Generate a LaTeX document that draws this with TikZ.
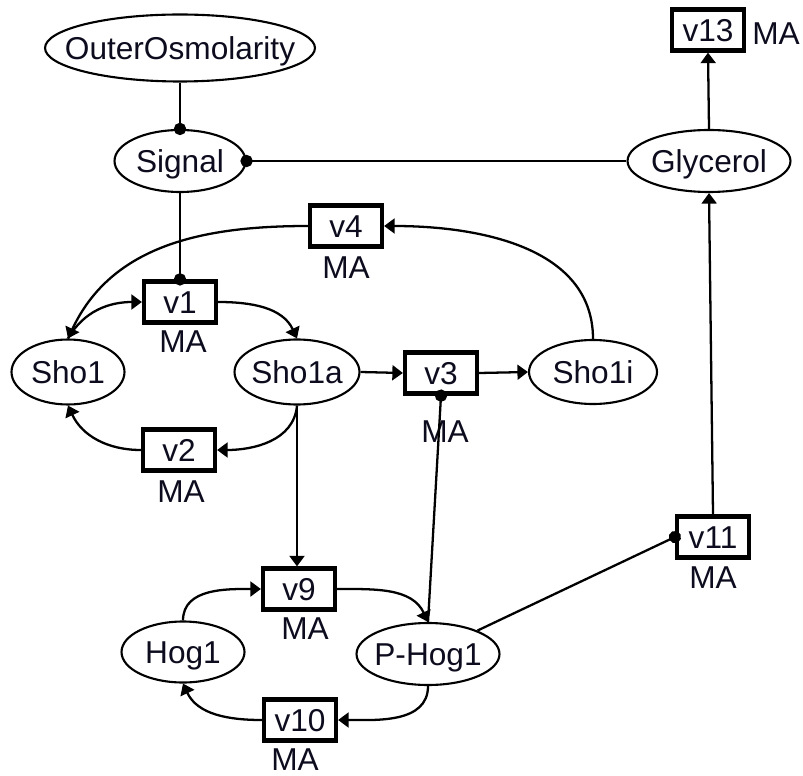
\documentclass[tikz,border=0pt]{standalone}
\usepackage{fontspec}
\setmainfont{Liberation Sans}
\usetikzlibrary{shapes.geometric,arrows.meta}
\definecolor{ink}{RGB}{12,12,30}
% zero-width text box so the ellipse size is set only by the minimum sizes
\newcommand{\zw}[1]{\makebox[0pt]{#1}}
\begin{document}
\begin{tikzpicture}[x=0.02cm,y=0.02cm,
  font=\fontsize{18}{20}\selectfont,
  species/.style={ellipse,draw,line width=1.2pt,inner sep=0pt,text=ink,
    text height=13pt,text depth=0pt},
  reaction/.style={rectangle,draw,line width=2.4pt,inner sep=0pt,
    minimum width=1.44cm,minimum height=0.82cm,text=ink,
    text height=13pt,text depth=0pt},
  ma/.style={text=ink,inner sep=0pt},
  flow/.style={line width=1.3pt,-{Triangle[length=6pt,width=8.5pt]}},
  modif/.style={line width=1.3pt,-{Circle[length=7pt]},shorten >=-3.5pt}]
\useasboundingbox (0,0) rectangle (803,-776);

% species
\node[species,minimum width=5.4cm,minimum height=1.34cm] (outer) at (180,-48) {\zw{OuterOsmolarity}};
\node[species,minimum width=2.62cm,minimum height=1.24cm] (signal) at (180,-161) {\zw{Signal}};
\node[species,minimum width=3.26cm,minimum height=1.24cm] (glyc) at (709,-161) {\zw{Glycerol}};
\node[species,minimum width=2.26cm,minimum height=1.3cm] (sho1) at (68,-372) {\zw{Sho1}};
\node[species,minimum width=2.5cm,minimum height=1.3cm] (sho1a) at (297,-372) {\zw{Sho1a}};
\node[species,minimum width=2.56cm,minimum height=1.28cm] (sho1i) at (593,-372) {\zw{Sho1i}};
\node[species,minimum width=2.46cm,minimum height=1.22cm] (hog1) at (183,-652) {\zw{Hog1}};
\node[species,minimum width=2.86cm,minimum height=1.24cm] (phog1) at (428,-654) {\zw{P-Hog1}};

% reactions and their kinetic laws
\node[reaction] (v13) at (708,-30) {v13};
\node[ma] (v13ma) at (776,-34) {MA};
\node[reaction] (v4) at (346,-226) {v4};
\node[ma] (v4ma) at (346,-268) {MA};
\node[reaction] (v1) at (180,-302) {v1};
\node[ma] (v1ma) at (183,-342) {MA};
\node[reaction] (v3) at (441,-373) {v3};
\node[ma] (v3ma) at (445,-432) {MA};
\node[reaction] (v2) at (179,-450) {v2};
\node[ma] (v2ma) at (181,-492) {MA};
\node[reaction] (v11) at (713,-537) {v11};
\node[ma] (v11ma) at (713,-578) {MA};
\node[reaction] (v9) at (299,-589) {v9};
\node[ma] (v9ma) at (305,-629) {MA};
\node[reaction] (v10) at (300,-720) {v10};
\node[ma] (v10ma) at (295,-760) {MA};

% modifiers
\draw[modif] (outer.south) -- (signal.north);
\draw[modif] (glyc.west) -- (signal.east);
\draw[modif] (signal.south) -- (v1.north);
\draw[modif] (phog1.north) -- (v3.south);
\draw[modif] (phog1) -- (v11.west);

% reaction flows
\draw[flow] (glyc.north) -- (v13.south);
\draw[flow] (v11.north) -- (glyc.south);
\draw[flow] (sho1i.north) to[out=90,in=0] (v4.east);
\draw[flow] (v4.west) to[out=180,in=65] (sho1.north);
\draw[flow] (sho1.north) to[out=60,in=180] (v1.west);
\draw[flow] (v1.east) to[out=0,in=115] (sho1a.north);
\draw[flow] (sho1a.south) to[out=-95,in=0] (v2.east);
\draw[flow] (v2.west) to[out=180,in=-65] (sho1.south);
\draw[flow] (sho1a.east) -- (v3.west);
\draw[flow] (v3.east) -- (sho1i.west);
\draw[flow] (sho1a.south) -- (sho1a.south |- v9.north);
\draw[flow] (hog1.north) to[out=90,in=180] (v9.west);
\draw[flow] (v9.east) to[out=0,in=115] (phog1.north);
\draw[flow] (phog1.south) to[out=-90,in=0] (v10.east);
\draw[flow] (v10.west) to[out=180,in=-65] (hog1.south);
\end{tikzpicture}
\end{document}
